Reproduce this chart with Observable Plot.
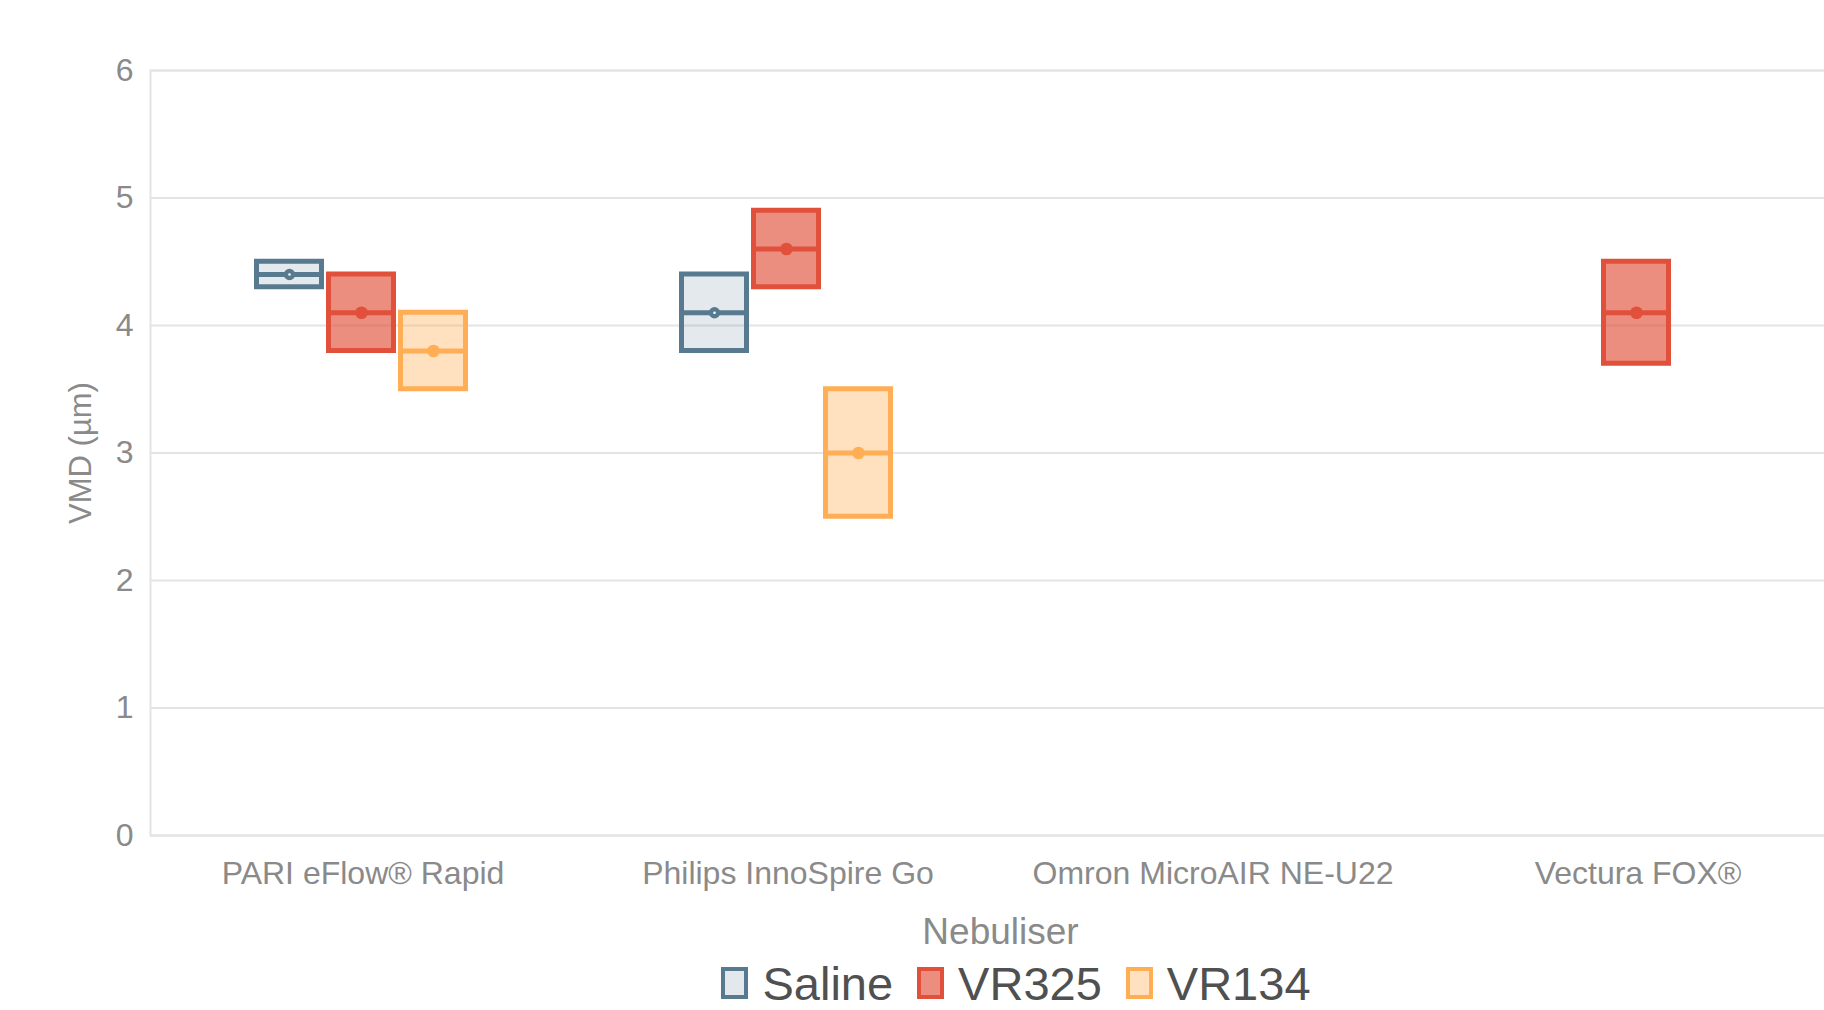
<!DOCTYPE html>
<html>
<head>
<meta charset="utf-8">
<script src="https://cdn.jsdelivr.net/npm/d3@7"></script>
<script src="https://cdn.jsdelivr.net/npm/@observablehq/plot@0.6"></script>
<style>
  html, body { margin: 0; padding: 0; background: #fff; }
  #wrap { width: 1824px; height: 1010px; overflow: hidden; position: relative; }
  #inner { width: 1852px; }
  #legend { display: flex; justify-content: center; align-items: center; padding-left: 180px; padding-top: 2px; height: 52px;
    font-family: "Liberation Sans", Arial, sans-serif; font-size: 47px; line-height: 1; color: #505050; }
  .item { display: flex; align-items: center; margin: 0 12px; }
  .sw { width: 19px; height: 24px; border: 4px solid; margin-right: 14px; }
</style>
</head>
<body>
<div id="wrap"><div id="inner"><div id="chart"></div><div id="legend"></div></div></div>
<script>
const nebulisers = ["PARI eFlow® Rapid", "Philips InnoSpire Go", "Omron MicroAIR NE-U22", "Vectura FOX®"];
const series = ["Saline", "VR325", "VR134"];

const salineLow    = [4.3, 3.8, null, null];
const salineMedian = [4.4, 4.1, null, null];
const salineHigh   = [4.5, 4.4, null, null];

const vr325Low     = [3.8, 4.3, null, 3.7];
const vr325Median  = [4.1, 4.6, null, 4.1];
const vr325High    = [4.4, 4.9, null, 4.5];

const vr134Low     = [3.5, 2.5, null, null];
const vr134Median  = [3.8, 3.0, null, null];
const vr134High    = [4.1, 3.5, null, null];

const yTicks = [0, 1, 2, 3, 4, 5, 6];
const xLabel = "Nebuliser";
const yLabel = "VMD (µm)";

// styles
const seriesColors = ["#587a90", "#e0503a", "#ffae55"];
const seriesFillOpacity = [0.17, 0.65, 0.37];

const lows = [salineLow, vr325Low, vr134Low];
const medians = [salineMedian, vr325Median, vr134Median];
const highs = [salineHigh, vr325High, vr134High];

const rowsBySeries = series.map((s, i) =>
  nebulisers.map((n, j) => ({nebuliser: n, series: s, low: lows[i][j], median: medians[i][j], high: highs[i][j]}))
    .filter(d => d.median != null)
);

const step = 72;
const inset = 180;
const font = "'Liberation Sans', Arial, sans-serif";

const seriesMarks = series.flatMap((s, i) => {
  const rows = rowsBySeries[i];
  const c = seriesColors[i];
  const dx = (i - 1) * step - 1.5;
  return [
    Plot.barY(rows, {x: "nebuliser", y1: "low", y2: "high", fill: c, fillOpacity: seriesFillOpacity[i],
      stroke: c, strokeWidth: 5, insetLeft: inset, insetRight: inset, dx}),
    Plot.tickY(rows, {x: "nebuliser", y: "median", stroke: c, strokeWidth: 5, insetLeft: inset, insetRight: inset, dx}),
    i === 0
      ? Plot.dot(rows, {x: "nebuliser", y: "median", r: 3.5, fill: "white", stroke: c, strokeWidth: 4.4, dx})
      : Plot.dot(rows, {x: "nebuliser", y: "median", r: 6.3, fill: c, stroke: "none", dx})
  ];
});

const chart = Plot.plot({
  width: 1852,
  height: 955,
  marginLeft: 150,
  marginRight: 2,
  marginTop: 70,
  marginBottom: 120,
  style: {fontFamily: font, fontSize: "32px", color: "#8a8a8a", background: "white"},
  x: {domain: nebulisers, padding: 0, tickSize: 0, tickPadding: 26, label: null},
  y: {domain: [0, 6], ticks: yTicks, tickFormat: d => String(d), tickSize: 0, tickPadding: 17, label: null},
  marks: [
    Plot.ruleY(yTicks, {stroke: "#e4e4e4", strokeWidth: 2}),
    Plot.frame({stroke: "#e4e4e4", strokeWidth: 2}),
    ...seriesMarks,
    Plot.axisX({tickSize: 0, tickPadding: 26, fontSize: 32, label: null}),
    Plot.text([xLabel], {text: d => d, frameAnchor: "bottom", dy: 108, fontSize: 37, fill: "#8a8a8a"}),
    Plot.text([yLabel], {text: d => d, frameAnchor: "left", textAnchor: "middle", dx: -69, rotate: -90, fontSize: 31, fill: "#8a8a8a"})
  ]
});
document.getElementById("chart").appendChild(chart);

const legend = document.getElementById("legend");
series.forEach((s, i) => {
  const item = document.createElement("div");
  item.className = "item";
  const sw = document.createElement("div");
  sw.className = "sw";
  sw.style.borderColor = seriesColors[i];
  sw.style.background = d3.interpolateRgb("white", seriesColors[i])(seriesFillOpacity[i]);
  const t = document.createElement("span");
  t.textContent = s;
  item.appendChild(sw);
  item.appendChild(t);
  legend.appendChild(item);
});
</script>
</body>
</html>
